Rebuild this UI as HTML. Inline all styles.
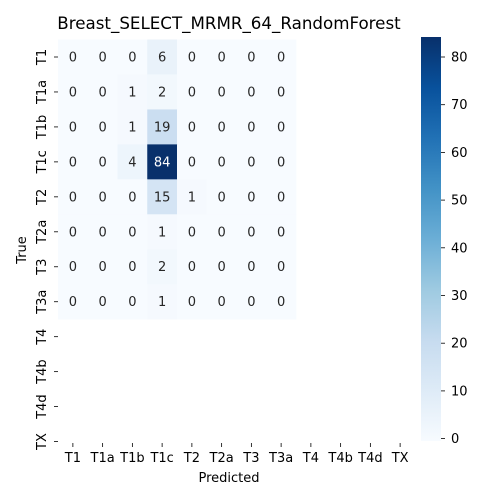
<!DOCTYPE html>
<html><head><meta charset="utf-8"><style>
body{margin:0;background:#fff;font-family:"DejaVu Sans","Liberation Sans",sans-serif}
</style></head><body>
<svg id="chart" width="500" height="500" xmlns="http://www.w3.org/2000/svg" font-family="DejaVu Sans, Liberation Sans, sans-serif">
<defs><linearGradient id="cb" x1="0" y1="1" x2="0" y2="0">
<stop offset="0" stop-color="#f7fbff"/><stop offset="0.125" stop-color="#deebf7"/><stop offset="0.25" stop-color="#c6dbef"/><stop offset="0.375" stop-color="#9ecae1"/><stop offset="0.5" stop-color="#6baed6"/><stop offset="0.625" stop-color="#4292c6"/><stop offset="0.75" stop-color="#2171b5"/><stop offset="0.875" stop-color="#08519c"/><stop offset="1" stop-color="#08306b"/>
</linearGradient></defs>
<text x="229" y="29" font-size="16.7" text-anchor="middle" fill="#000">Breast_SELECT_MRMR_64_RandomForest</text>
<g id="cells"></g>
<rect x="421" y="37" width="20" height="404" fill="url(#cb)"/>
<g id="axes"></g>
<text x="229" y="482" font-size="13" text-anchor="middle">Predicted</text>
<text transform="translate(26,250) rotate(-90)" font-size="13" text-anchor="middle">True</text>
</svg>
<script>
const labels=["T1","T1a","T1b","T1c","T2","T2a","T3","T3a","T4","T4b","T4d","TX"];
const rowValues=[
[0,0,0,6,0,0,0,0],
[0,0,1,2,0,0,0,0],
[0,0,1,19,0,0,0,0],
[0,0,4,84,0,0,0,0],
[0,0,0,15,1,0,0,0],
[0,0,0,1,0,0,0,0],
[0,0,0,2,0,0,0,0],
[0,0,0,1,0,0,0,0]];
const cbTicks=[0,10,20,30,40,50,60,70,80];
const vmax=84;
const NS="http://www.w3.org/2000/svg";
const x0=58,cw=29.75,y0=39.5,ch=34.96;
const xc=j=>x0+cw*(j+0.5), yc=i=>y0+ch*(i+0.5);
const cbY=v=>438.6-v*4.77;
const stops=[[0,"#f7fbff"],[.125,"#deebf7"],[.25,"#c6dbef"],[.375,"#9ecae1"],[.5,"#6baed6"],[.625,"#4292c6"],[.75,"#2171b5"],[.875,"#08519c"],[1,"#08306b"]];
function hx(c){return [1,3,5].map(k=>parseInt(c.substr(k,2),16));}
function cmap(t){for(let k=1;k<stops.length;k++){if(t<=stops[k][0]){const a=stops[k-1],b=stops[k],f=(t-a[0])/(b[0]-a[0]);const A=hx(a[1]),B=hx(b[1]);return "rgb("+A.map((v,i)=>Math.round(v+(B[i]-v)*f)).join(",")+")";}}return stops[8][1];}
function mk(tag,attrs,parent,text){const e=document.createElementNS(NS,tag);for(const k in attrs)e.setAttribute(k,attrs[k]);if(text!==undefined)e.textContent=text;parent.appendChild(e);return e;}
const cells=document.getElementById('cells'),axes=document.getElementById('axes');
rowValues.forEach((row,i)=>row.forEach((v,j)=>{
 const r=mk('rect',{x:x0+cw*j,y:y0+ch*i,width:cw+0.3,height:ch+0.3,fill:cmap(v/vmax)},cells);
 
 
 const t=mk('text',{x:xc(j),y:yc(i)+4.5,'font-size':13,'text-anchor':'middle',fill:v/vmax>0.6?'#fff':'#262626'},cells,String(v));
 
 
}));
labels.forEach((l,j)=>{
 mk('line',{x1:xc(j),x2:xc(j),y1:443,y2:447,stroke:'#000','stroke-width':0.8},axes);
 const t=mk('text',{x:xc(j),y:462,'font-size':13,'text-anchor':'middle'},axes,l);
 
 
 const y=57+j*34.96;
 mk('line',{x1:54,x2:58,y1:y,y2:y,stroke:'#000','stroke-width':0.8},axes);
 const u=mk('text',{transform:`translate(46,${y}) rotate(-90)`,'font-size':13,'text-anchor':'middle'},axes,l);
 
 
});
cbTicks.forEach(v=>{
 const y=cbY(v);
 mk('line',{x1:441,x2:445,y1:y,y2:y,stroke:'#000','stroke-width':0.8},axes);
 const t=mk('text',{x:451,y:y+4.5,'font-size':13},axes,String(v));
 
 
});
</script>
</body></html>
